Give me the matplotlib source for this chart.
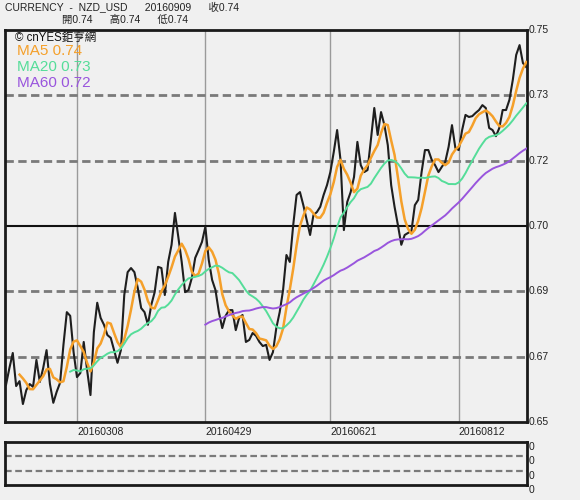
import matplotlib
matplotlib.use("Agg")
import matplotlib.pyplot as plt
import numpy as np
import pandas as pd

plt.rcParams['font.family'] = ['Liberation Sans', 'Noto Sans CJK TC', 'DejaVu Sans']

# ---------------- data ----------------
start_date = "2016-02-08"
end_date = "2016-09-09"
close = [
    0.6631, 0.6672, 0.6709, 0.6628, 0.6640, 0.6584, 0.6618, 0.6633, 0.6626, 0.6692,
    0.6638, 0.6672, 0.6716, 0.6633, 0.6587, 0.6614, 0.6636, 0.6729, 0.6809, 0.6800,
    0.6711, 0.6650, 0.6660, 0.6736, 0.6667, 0.6606, 0.6760, 0.6832, 0.6795, 0.6778,
    0.6753, 0.6746, 0.6716, 0.6685, 0.6716, 0.6851, 0.6907, 0.6917, 0.6907, 0.6868,
    0.6819, 0.6809, 0.6778, 0.6827, 0.6858, 0.6920, 0.6917, 0.6851, 0.6932, 0.6974,
    0.7052, 0.6993, 0.6932, 0.6858, 0.6863, 0.6893, 0.6942, 0.6961, 0.6981, 0.7018,
    0.6937, 0.6888, 0.6863, 0.6809, 0.6770, 0.6800, 0.6814, 0.6814, 0.6765, 0.6795,
    0.6802, 0.6736, 0.6741, 0.6758, 0.6751, 0.6736, 0.6726, 0.6729, 0.6692, 0.6711,
    0.6770, 0.6809, 0.6863, 0.6949, 0.6932, 0.7022, 0.7096, 0.7103, 0.7071, 0.7035,
    0.6998, 0.7047, 0.7054, 0.7067, 0.7096, 0.7120, 0.7152, 0.7201, 0.7255, 0.7182,
    0.7010, 0.7079, 0.7103, 0.7140, 0.7226, 0.7169, 0.7152, 0.7157, 0.7231, 0.7309,
    0.7243, 0.7299, 0.7267, 0.7218, 0.7120, 0.7067, 0.7022, 0.6974, 0.6998, 0.7003,
    0.7008, 0.7071, 0.7084, 0.7152, 0.7206, 0.7206, 0.7182, 0.7169, 0.7152, 0.7165,
    0.7177, 0.7214, 0.7267, 0.7211, 0.7206, 0.7255, 0.7292, 0.7287, 0.7289, 0.7297,
    0.7304, 0.7316, 0.7309, 0.7260, 0.7255, 0.7240, 0.7260, 0.7304, 0.7304, 0.7329,
    0.7378, 0.7439, 0.7463, 0.7419, 0.7409,
]
ma_windows = [5, 20, 60]
ma_labels = ["MA5 0.74", "MA20 0.73", "MA60 0.72"]
date_ticks = ["20160308", "20160429", "20160621", "20160812"]
y_levels = [0.654, 0.670, 0.686, 0.702, 0.718, 0.734, 0.750]
y_labels = ["0.65", "0.67", "0.69", "0.70", "0.72", "0.73", "0.75"]
sub_labels = ["0", "0", "0", "0"]
header1 = "CURRENCY  -  NZD_USD      20160909      收0.74"
header2 = "開0.74      高0.74      低0.74"
source = "© cnYES鉅亨網"

# ---------------- styles ----------------
bg = "#F0F0F0"
ma_colors = ["#F5A02A", "#55DD99", "#9955DD"]
ma_widths = [1.8, 1.4, 1.4]

dates = pd.bdate_range(start_date, end_date)
s = pd.Series(close, index=dates[:len(close)])
x = np.arange(len(s))
date_str = [d.strftime("%Y%m%d") for d in s.index]
tick_pos = [date_str.index(t) for t in date_ticks]

W, H = 580, 500
fig = plt.figure(figsize=(W / 100, H / 100), dpi=100, facecolor=bg)

ax = fig.add_axes([5 / W, 1 - 422 / H, 522 / W, 392 / H])
ax.set_facecolor(bg)
ax.set_xlim(-0.3, len(s) - 0.8)
ax.set_ylim(y_levels[0], y_levels[-1])

for p in tick_pos:
    ax.axvline(p, color="#9A9A9A", lw=1.0, zorder=1)
for i, lv in enumerate(y_levels[1:-1], start=1):
    if i == 3:
        ax.axhline(lv, color="#111111", lw=1.5, zorder=1)
    else:
        ax.axhline(lv, color="#7A7A7A", lw=2.0, ls=(0, (3, 1.6)), zorder=1)

ax.plot(x, s.values, color="#1E1E1E", lw=1.5, zorder=3)
for w, c, lw in zip(ma_windows, ma_colors, ma_widths):
    ax.plot(x, s.rolling(w).mean().values, color=c, lw=lw, zorder=4)

ax.set_xticks([])
ax.set_yticks([])
for sp in ax.spines.values():
    sp.set_linewidth(2.0)
    sp.set_color("#1A1A1A")

for lv, lb in zip(y_levels, y_labels):
    ax.text(1.004, lv, lb, transform=ax.get_yaxis_transform(), ha="left", va="center",
            fontsize=7.5, color="#222222")
for p, t in zip(tick_pos, date_ticks):
    ax.text(p, -0.012, t, transform=ax.get_xaxis_transform(), ha="left", va="top",
            fontsize=7.5, color="#222222")

ax.text(10 / 522, 1 - 8 / 392, source, transform=ax.transAxes, ha="left", va="center",
        fontsize=8.3, color="#111111")
for k, (lb, c) in enumerate(zip(ma_labels, ma_colors)):
    ax.text(12 / 522, 1 - (21 + 16 * k) / 392, lb, transform=ax.transAxes, ha="left",
            va="center", fontsize=11, color=c)

fig.text(5 / W, 1 - 8 / H, header1, ha="left", va="center", fontsize=7.5, color="#222222")
fig.text(62 / W, 1 - 20 / H, header2, ha="left", va="center", fontsize=7.5, color="#222222")

# lower panel
ax2 = fig.add_axes([5 / W, 1 - 485 / H, 522 / W, 43 / H])
ax2.set_facecolor(bg)
ax2.set_xlim(0, 1)
ax2.set_ylim(0, 3)
for lv in [1, 2]:
    ax2.axhline(lv, color="#7A7A7A", lw=1.6, ls=(0, (3, 1.6)))
ax2.set_xticks([])
ax2.set_yticks([])
for sp in ax2.spines.values():
    sp.set_linewidth(2.0)
    sp.set_color("#1A1A1A")
for k, lb in enumerate(sub_labels):
    ax2.text(1.004, 3 - k, lb, transform=ax2.get_yaxis_transform(), ha="left", va="top",
             fontsize=7.5, color="#222222")

fig.savefig("out.png", dpi=100, facecolor=bg)
